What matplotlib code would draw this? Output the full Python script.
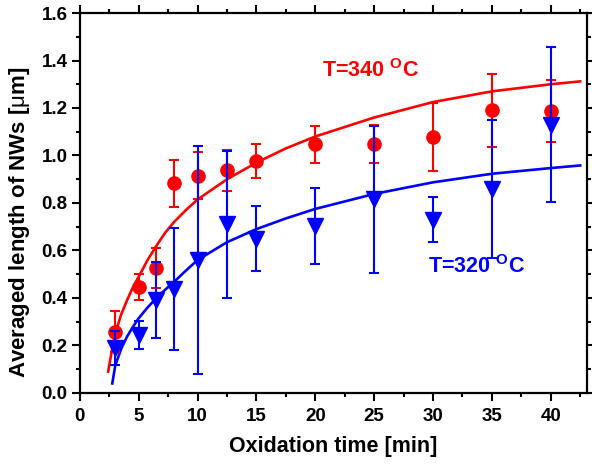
import matplotlib
matplotlib.use("Agg")
import matplotlib.pyplot as plt

# Measured nanowire lengths (um) vs oxidation time (min)
time_340 = [3, 5, 6.5, 8, 10, 12.5, 15, 20, 25, 30, 35, 40]
len_340 = [0.258, 0.445, 0.525, 0.883, 0.915, 0.937, 0.978, 1.048, 1.047, 1.078, 1.190, 1.187]
err_340 = [0.085, 0.055, 0.085, 0.100, 0.100, 0.085, 0.072, 0.078, 0.080, 0.145, 0.155, 0.130]

time_320 = [3, 5, 6.5, 8, 10, 12.5, 15, 20, 25, 30, 35, 40]
len_320 = [0.188, 0.245, 0.390, 0.437, 0.560, 0.710, 0.650, 0.703, 0.815, 0.730, 0.860, 1.130]
err_320 = [0.072, 0.060, 0.160, 0.258, 0.480, 0.310, 0.136, 0.160, 0.310, 0.095, 0.290, 0.325]

# Growth-model fit curves
fit_x_340 = [2.4, 2.7, 3, 3.5, 4, 4.5, 5, 5.75, 6.5, 7.25, 8, 9, 10, 12.5, 15, 17.5,
             20, 25, 30, 35, 40, 42.5]
fit_y_340 = [0.09, 0.175, 0.25, 0.33, 0.39, 0.445, 0.49, 0.56, 0.62, 0.675, 0.72,
             0.77, 0.815, 0.90, 0.97, 1.03, 1.08, 1.16, 1.225, 1.27, 1.30, 1.312]

fit_x_320 = [2.75, 3, 3.5, 4, 4.5, 5, 5.75, 6.5, 7.25, 8, 9, 10, 12.5, 15, 17.5,
             20, 25, 30, 35, 40, 42.5]
fit_y_320 = [0.04, 0.115, 0.185, 0.237, 0.278, 0.315, 0.36, 0.40, 0.435, 0.468,
             0.515, 0.56, 0.635, 0.69, 0.735, 0.775, 0.838, 0.887, 0.923, 0.947, 0.958]

RED = "#ff0000"
BLUE = "#0000ff"

plt.rcParams["font.family"] = ["Liberation Sans", "DejaVu Sans"]
plt.rcParams["mathtext.fontset"] = "custom"
plt.rcParams["mathtext.rm"] = "Liberation Sans"
plt.rcParams["mathtext.bf"] = "Liberation Sans:bold"

fig = plt.figure(figsize=(5.92, 4.65), dpi=100)
ax = fig.add_axes([0.135, 0.155, 0.857, 0.817])

ax.plot(fit_x_340, fit_y_340, color=RED, lw=1.9, zorder=2)
ax.plot(fit_x_320, fit_y_320, color=BLUE, lw=1.9, zorder=2)

ax.errorbar(time_340, len_340, yerr=err_340, fmt="o", color=RED, ms=9.5,
            elinewidth=1.5, capsize=3.8, capthick=1.5, zorder=3)
ax.errorbar(time_320, len_320, yerr=err_320, fmt="v", color=BLUE, ms=11,
            elinewidth=1.5, capsize=3.8, capthick=1.5, zorder=4)

ax.text(20.6, 1.33, r"T=340 $^{\mathbf{O}}$C", color=RED, fontsize=15.5,
        fontweight="bold")
ax.text(29.6, 0.505, r"T=320 $^{\mathbf{O}}$C", color=BLUE, fontsize=15.5,
        fontweight="bold")

ax.set_xlim(0, 43.1)
ax.set_ylim(0, 1.6)
ax.set_xticks(range(0, 45, 5))
ax.set_xticks([2.5 + 5 * i for i in range(9)], minor=True)
ax.set_yticks([0.2 * i for i in range(9)])
ax.set_yticks([0.1 + 0.2 * i for i in range(8)], minor=True)
ax.yaxis.set_major_formatter(matplotlib.ticker.FormatStrFormatter("%.1f"))

ax.tick_params(which="both", direction="out", top=True, right=True,
               width=1.5, labelsize=13.5)
ax.tick_params(axis="x", pad=5)
ax.tick_params(axis="y", pad=3)
ax.tick_params(which="major", length=6)
ax.tick_params(which="minor", length=3)
for lab in ax.get_xticklabels() + ax.get_yticklabels():
    lab.set_fontweight("bold")
for s in ax.spines.values():
    s.set_linewidth(1.6)

ax.set_xlabel("Oxidation time [min]", fontsize=15.5, fontweight="bold", labelpad=8)
ax.set_ylabel(r"Averaged length of NWs [$\mathrm{\mu}$m]", fontsize=16,
              fontweight="bold")
ax.yaxis.set_label_coords(-0.094, 0.45)

fig.savefig("out.png", dpi=100)
